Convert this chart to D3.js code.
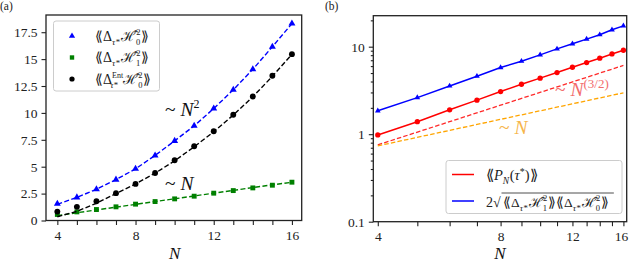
<!DOCTYPE html>
<html>
<head>
<meta charset="utf-8">
<script src="https://cdn.jsdelivr.net/npm/d3@7"></script>
<style>
  body { margin: 0; background: #fff; }
  svg { display: block; }
  text { font-family: "Liberation Serif", "DejaVu Serif", serif; }
</style>
</head>
<body>
<svg id="chart" width="629" height="264"></svg>
<script>
// system sizes
const N = [4, 5, 6, 7, 8, 9, 10, 11, 12, 13, 14, 15, 16];

// panel (a): variances
const h0 = [1.55, 2.15, 2.9, 3.8, 4.8, 6.05, 7.4, 8.8, 10.4, 12.15, 14.05, 16.15, 18.3];
const h1 = [0.56, 0.8, 1.02, 1.27, 1.52, 1.76, 2.01, 2.26, 2.54, 2.78, 3.03, 3.28, 3.56];
const h0Ent = [0.83, 1.27, 1.79, 2.54, 3.4, 4.42, 5.6, 6.9, 8.29, 9.83, 11.53, 13.45, 15.46];
// dashed fits
const h0Fit = [1.5, 2.15, 2.9, 3.8, 4.8, 6.05, 7.4, 8.8, 10.4, 12.15, 14.05, 16.15, 18.3];
const h1Fit = [0.45, 0.72, 0.98, 1.24, 1.5, 1.76, 2.02, 2.28, 2.54, 2.8, 3.06, 3.32, 3.55];
const h0EntFit = [0.35, 0.85, 1.6, 2.5, 3.4, 4.4, 5.55, 6.85, 8.25, 9.8, 11.5, 13.4, 15.45];

// panel (b): power and bound
const power = [0.98, 1.39, 1.9, 2.45, 3.07, 3.72, 4.37, 5.06, 5.82, 6.59, 7.39, 8.26, 9.1];
const bound = [1.85, 2.62, 3.56, 4.6, 5.77, 6.83, 8.06, 9.43, 10.8, 12.2, 13.7, 15.6, 17.3];
// reference power laws (end points)
const refN = [4, 16];
const refN32 = [0.755, 6.1];
const refN1 = [0.735, 2.97];

const xTicks = [4, 8, 12, 16];
const yTicksA = [0, 2.5, 5, 7.5, 10, 12.5, 15, 17.5];
const yTickLabelsA = ['0', '2.5', '5', '7.5', '10', '12.5', '15', '17.5'];
const yTicksB = [0.1, 1, 10];
const yTickLabelsB = ['0.1', '1', '10'];

const svg = d3.select('#chart');

// helper for math-ish labels built from tspans
function rich(g, x, y, parts, size, color) {
  const t = g.append('text')
    .attr('x', x)
    .attr('y', y)
    .attr('font-size', size)
    .attr('fill', color || '#111');
  parts.forEach(p => {
    const s = t.append('tspan').text(p.t);
    if (p.dy) s.attr('dy', p.dy);
    if (p.dx) s.attr('dx', p.dx);
    if (p.s) s.attr('font-size', p.s);
    if (p.i) s.attr('font-style', 'italic');
  });
  return t;
}

function frame(g, x, y) {
  g.append('rect')
    .attr('x', x.range()[0])
    .attr('y', y.range()[1])
    .attr('width', x.range()[1] - x.range()[0])
    .attr('height', y.range()[0] - y.range()[1])
    .attr('fill', 'none')
    .attr('stroke', '#222')
    .attr('stroke-width', 1.3);
}

function styleAxis(a) {
  a.attr('font-family', null);
  a.select('.domain').remove();
  a.selectAll('line').attr('stroke', '#222').attr('stroke-width', 1.1);
  a.selectAll('text').attr('font-size', 13.5).attr('fill', '#222');
}

// variance label pieces: <<Delta_tau* H^2_k>>
function varParts(k, ent) {
  const p = [{ t: '⟪Δ' }];
  if (ent) {
    p.push({ t: 'Ent', s: 8, dy: -6 });
    p.push({ t: 'τ*', s: 9, dy: 10, dx: -13, i: true });
    p.push({ t: 'ℋ̂', dy: -4, dx: 5.5 });
  } else {
    p.push({ t: 'τ*', s: 9, dy: 4, i: true });
    p.push({ t: 'ℋ̂', dy: -4, dx: 1.5 });
  }
  p.push({ t: '2', s: 8.5, dy: -6 });
  p.push({ t: String(k), s: 8.5, dy: 10, dx: -4.4 });
  p.push({ t: '⟫', dy: -4, dx: 1 });
  return p;
}

// ---------- panel (a) ----------
const xa = d3.scaleLinear().domain([3.42, 16.5]).range([46, 301.7]);
const ya = d3.scaleLinear().domain([0, 19.1]).range([220.5, 15]);
const ga = svg.append('g');

const axA = ga.append('g')
  .attr('transform', 'translate(0,' + ya.range()[0] + ')')
  .call(d3.axisBottom(xa).tickValues(N).tickSize(4.5).tickPadding(5)
    .tickFormat(d => xTicks.includes(d) ? d : ''));
styleAxis(axA);
const ayA = ga.append('g')
  .attr('transform', 'translate(' + xa.range()[0] + ',0)')
  .call(d3.axisLeft(ya).tickValues(yTicksA).tickSize(4.5).tickPadding(4)
    .tickFormat((d, i) => yTickLabelsA[i]));
styleAxis(ayA);

const seriesA = [
  { v: h0, fit: h0Fit, c: '#0000ff', m: d3.symbolTriangle, ms: 21 },
  { v: h1, fit: h1Fit, c: '#008000', m: d3.symbolSquare, ms: 24 },
  { v: h0Ent, fit: h0EntFit, c: '#000000', m: d3.symbolCircle, ms: 27 }
];

const lineA = d3.line().x(d => xa(d[0])).y(d => ya(d[1]));
seriesA.forEach(s => {
  ga.append('path')
    .datum(N.map((n, i) => [n, s.fit[i]]))
    .attr('fill', 'none')
    .attr('stroke', s.c)
    .attr('stroke-width', 1.4)
    .attr('stroke-dasharray', '5,2.4')
    .attr('d', lineA);
  ga.selectAll(null)
    .data(N.map((n, i) => [n, s.v[i]]))
    .join('path')
    .attr('transform', d => 'translate(' + xa(d[0]) + ',' + ya(d[1]) + ')')
    .attr('d', d3.symbol(s.m, s.ms))
    .attr('fill', s.c);
});

frame(ga, xa, ya);

// annotations
rich(ga, 165, 116, [{ t: '~ ' }, { t: 'N', i: true }, { t: '2', dy: -8, s: 12 }], 19.5, '#111');
rich(ga, 165, 190, [{ t: '~ ' }, { t: 'N', i: true }], 19.5, '#111');

// legend (a)
const la = ga.append('g');
la.append('rect')
  .attr('x', 53.5).attr('y', 21).attr('width', 106).attr('height', 70)
  .attr('rx', 2.5).attr('fill', '#fff').attr('stroke', '#ccc').attr('stroke-width', 1);
const legA = [varParts(0, false), varParts(1, false), varParts(0, true)];
seriesA.forEach((s, i) => {
  const yy = 36 + i * 21.5;
  la.append('path')
    .attr('transform', 'translate(72,' + yy + ')')
    .attr('d', d3.symbol(s.m, s.ms * 0.8))
    .attr('fill', s.c);
  rich(la, 95, yy + 4.5, legA[i], 14, '#222');
});

svg.append('text').attr('x', 0).attr('y', 10).attr('font-size', 11.5).attr('fill', '#222').text('(a)');
svg.append('text').attr('x', xa(10)).attr('y', 259).attr('text-anchor', 'middle')
  .attr('font-size', 17).attr('font-style', 'italic').attr('fill', '#111').text('N');

// ---------- panel (b) ----------
const xb = d3.scaleLog().domain([3.9, 16.3]).range([373.3, 626.7]);
const yb = d3.scaleLog().domain([0.1, 22.6]).range([221.7, 15.7]);
const gb = svg.append('g');

const axB = gb.append('g')
  .attr('transform', 'translate(0,' + yb.range()[0] + ')')
  .call(d3.axisBottom(xb).tickValues(N).tickSize(4.5).tickPadding(5)
    .tickFormat(d => xTicks.includes(d) ? d : ''));
styleAxis(axB);
axB.selectAll('.tick text').filter(d => d === 16).attr('dx', -2.5);

const minorB = [];
[0.1, 1, 10].forEach(dec => {
  for (let k = 2; k <= 9; k++) if (dec * k < 22.6) minorB.push(dec * k);
});
const ayBm = gb.append('g')
  .attr('transform', 'translate(' + xb.range()[0] + ',0)')
  .call(d3.axisLeft(yb).tickValues(minorB).tickSize(2.5).tickFormat(''));
styleAxis(ayBm);
const ayB = gb.append('g')
  .attr('transform', 'translate(' + xb.range()[0] + ',0)')
  .call(d3.axisLeft(yb).tickValues(yTicksB).tickSize(4.5).tickPadding(4)
    .tickFormat((d, i) => yTickLabelsB[i]));
styleAxis(ayB);

const lineB = d3.line().x(d => xb(d[0])).y(d => yb(d[1]));

// reference power laws
gb.append('path')
  .datum(refN.map((n, i) => [n, refN32[i]]))
  .attr('fill', 'none').attr('stroke', '#ff2a2a').attr('stroke-width', 1.3)
  .attr('stroke-dasharray', '4.5,2.2').attr('d', lineB);
gb.append('path')
  .datum(refN.map((n, i) => [n, refN1[i]]))
  .attr('fill', 'none').attr('stroke', '#ffa500').attr('stroke-width', 1.3)
  .attr('stroke-dasharray', '4.5,2.2').attr('d', lineB);

const seriesB = [
  { v: bound, c: '#0000ff', m: d3.symbolTriangle, ms: 14 },
  { v: power, c: '#ff0000', m: d3.symbolCircle, ms: 22 }
];
seriesB.forEach(s => {
  gb.append('path')
    .datum(N.map((n, i) => [n, s.v[i]]))
    .attr('fill', 'none').attr('stroke', s.c).attr('stroke-width', 1.5)
    .attr('d', lineB);
  gb.selectAll(null)
    .data(N.map((n, i) => [n, s.v[i]]))
    .join('path')
    .attr('transform', d => 'translate(' + xb(d[0]) + ',' + yb(d[1]) + ')')
    .attr('d', d3.symbol(s.m, s.ms))
    .attr('fill', s.c);
});

frame(gb, xb, yb);

rich(gb, 555, 96, [{ t: '~ ' }, { t: 'N', i: true }, { t: '(3/2)', dy: -8, s: 13 }], 19.5, '#f26d6d');
rich(gb, 499, 134, [{ t: '~ ' }, { t: 'N', i: true }], 19.5, '#f6b54a');

// legend (b)
const lb = gb.append('g');
lb.append('rect')
  .attr('x', 446).attr('y', 160.5).attr('width', 176).attr('height', 53)
  .attr('rx', 2.5).attr('fill', '#fff').attr('stroke', '#ccc').attr('stroke-width', 1);
[['#ff0000', 174.5], ['#0000ff', 201]].forEach(d => {
  lb.append('line')
    .attr('x1', 452).attr('x2', 474).attr('y1', d[1]).attr('y2', d[1])
    .attr('stroke', d[0]).attr('stroke-width', 1.5);
});
rich(lb, 486, 179.5, [{ t: '⟪' }, { t: 'P', i: true }, { t: 'N', i: true, s: 9.5, dy: 4 },
  { t: '(', dy: -4, dx: 0.5 }, { t: 'τ', i: true }, { t: '*', s: 10, dy: -5 }, { t: ')⟫', dy: 5 }], 14.5, '#222');
rich(lb, 486, 206.5, [{ t: '2√' }], 14, '#222');
const inner = rich(lb, 503, 206.5, varParts(1, false).concat(varParts(0, false)), 13.5, '#222');
const w = inner.node().getComputedTextLength();
lb.append('line')
  .attr('x1', 501.5).attr('x2', 503 + w + 1).attr('y1', 193).attr('y2', 193)
  .attr('stroke', '#222').attr('stroke-width', 0.8);

svg.append('text').attr('x', 325).attr('y', 10).attr('font-size', 11.5).attr('fill', '#222').text('(b)');
svg.append('text').attr('x', 500).attr('y', 259).attr('text-anchor', 'middle')
  .attr('font-size', 17).attr('font-style', 'italic').attr('fill', '#111').text('N');
</script>
</body>
</html>
